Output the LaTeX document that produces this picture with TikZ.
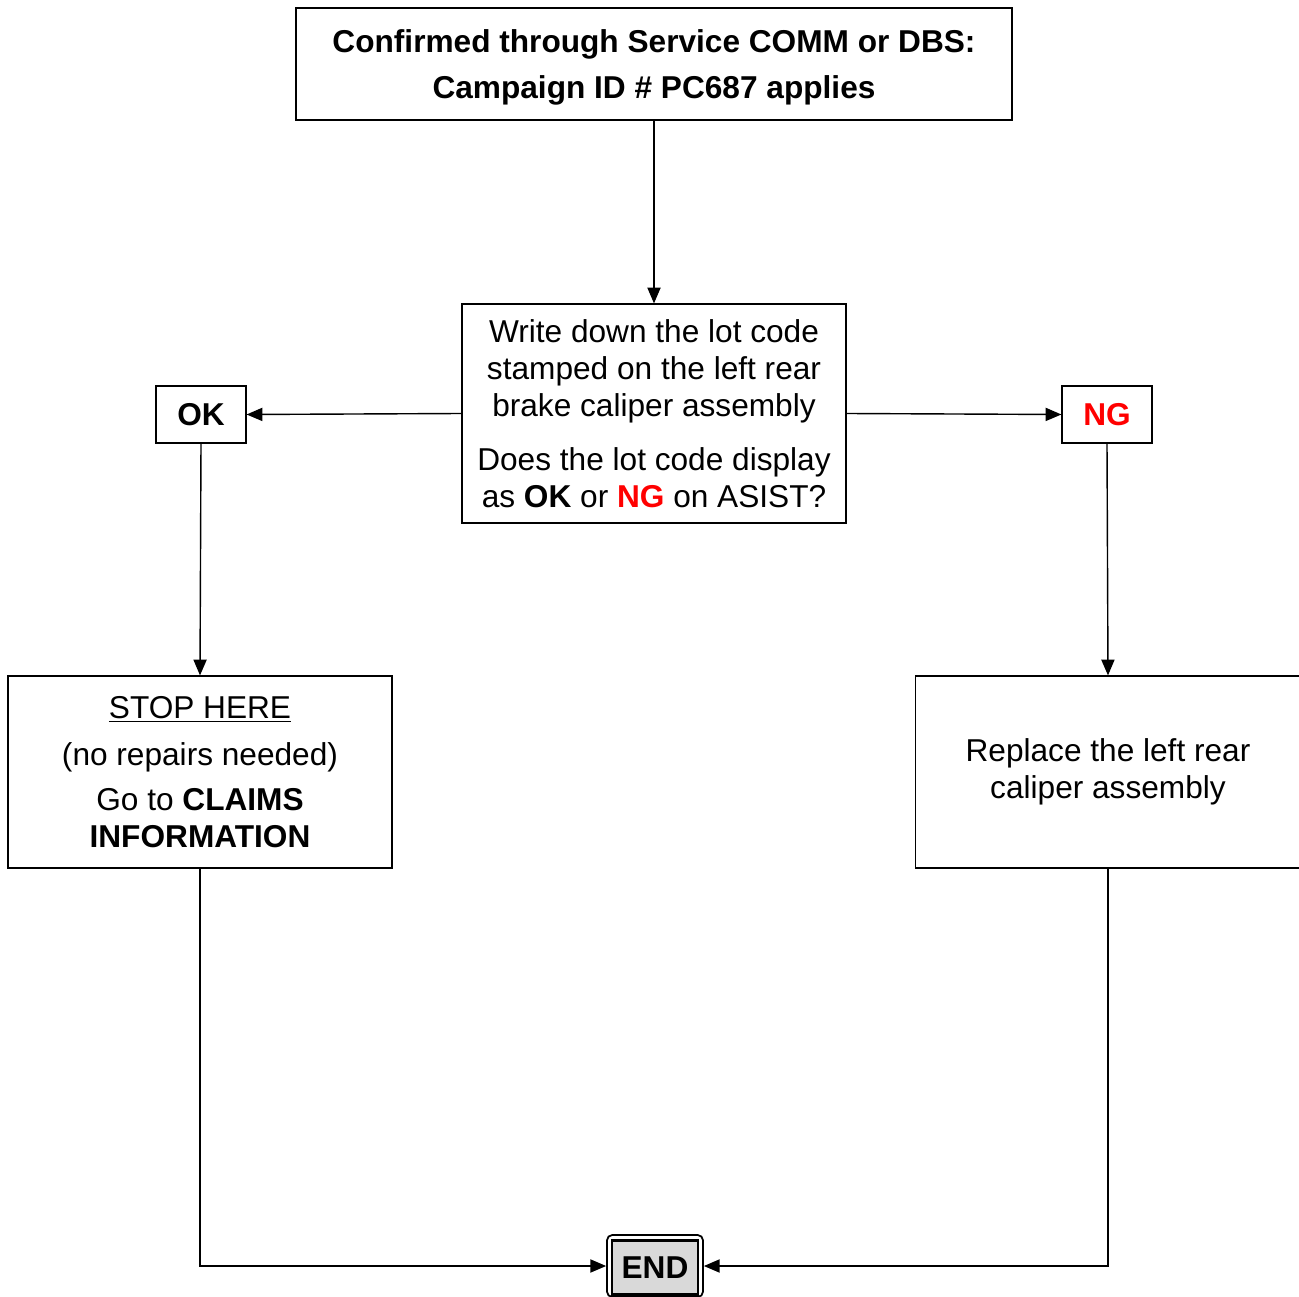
\documentclass[tikz,border=0pt]{standalone}
\usepackage{fontspec}
\setmainfont{Liberation Sans}
\usetikzlibrary{arrows.meta}
\definecolor{ngred}{RGB}{255,0,0}
\definecolor{endgray}{RGB}{217,217,217}
\begin{document}
\begin{tikzpicture}[x=0.02cm, y=-0.02cm,
	box/.style={draw, line width=0.7pt, align=center, inner sep=0pt, font=\fontsize{18}{21}\selectfont},
	flow/.style={line width=0.8pt, -{Triangle[length=9pt, width=7.5pt]}},
	endouter/.style={draw, line width=1pt, rounded corners=3pt, minimum width=1.92cm, minimum height=1.24cm},
	endinner/.style={draw, line width=1.4pt, fill=endgray, minimum width=1.72cm, minimum height=1.08cm, inner sep=0pt, font=\bfseries\fontsize{18}{21}\selectfont}]
	\useasboundingbox (0,0) rectangle (1299,1297);
	\node[box, minimum width=14.32cm, minimum height=2.24cm, text depth=-2pt, font=\bfseries\fontsize{18}{26.6}\selectfont] (campaign) at (654,64) {Confirmed through Service COMM or DBS:\\Campaign ID \# PC687 applies};
	\node[box, minimum width=7.68cm, minimum height=4.38cm] (lotcode) at (654,413.5) {Write down the lot code\\stamped on the left rear\\brake caliper assembly\\[10pt]Does the lot code display\\as \textbf{OK} or \textcolor{ngred}{\textbf{NG}} on ASIST?};
	\node[box, minimum width=1.8cm, minimum height=1.14cm, font=\bfseries\fontsize{18}{21}\selectfont] (ok) at (201,414.5) {\raisebox{-1.5pt}{OK}};
	\node[box, minimum width=1.8cm, minimum height=1.14cm, font=\bfseries\fontsize{18}{21}\selectfont, text=ngred] (ng) at (1107,414.5) {\raisebox{-1.5pt}{NG}};
	\node[box, minimum width=7.68cm, minimum height=3.84cm] (stop) at (200,772) {\underline{STOP HERE}\\[5.6pt](no repairs needed)\\[4.5pt]Go to \textbf{CLAIMS}\\\textbf{INFORMATION}};
	\node[box, minimum width=7.7cm, minimum height=3.84cm] (replace) at (1108,772) {Replace the left rear\\caliper assembly};
	\node[endouter] (end) at (655,1266) {};
	\node[endinner] (endlabel) at (655,1267.5) {\raisebox{-1.5pt}{END}};
	\draw[flow] (campaign.south) -- (lotcode.north);
	\draw[flow] (lotcode.west) -- (ok.east);
	\draw[flow] (lotcode.east) -- (ng.west);
	\draw[flow] (ok.south) -- (stop.north);
	\draw[flow] (ng.south) -- (replace.north);
	\draw[flow] (stop.south) |- (end.west);
	\draw[flow] (replace.south) |- (end.east);
\end{tikzpicture}
\end{document}
